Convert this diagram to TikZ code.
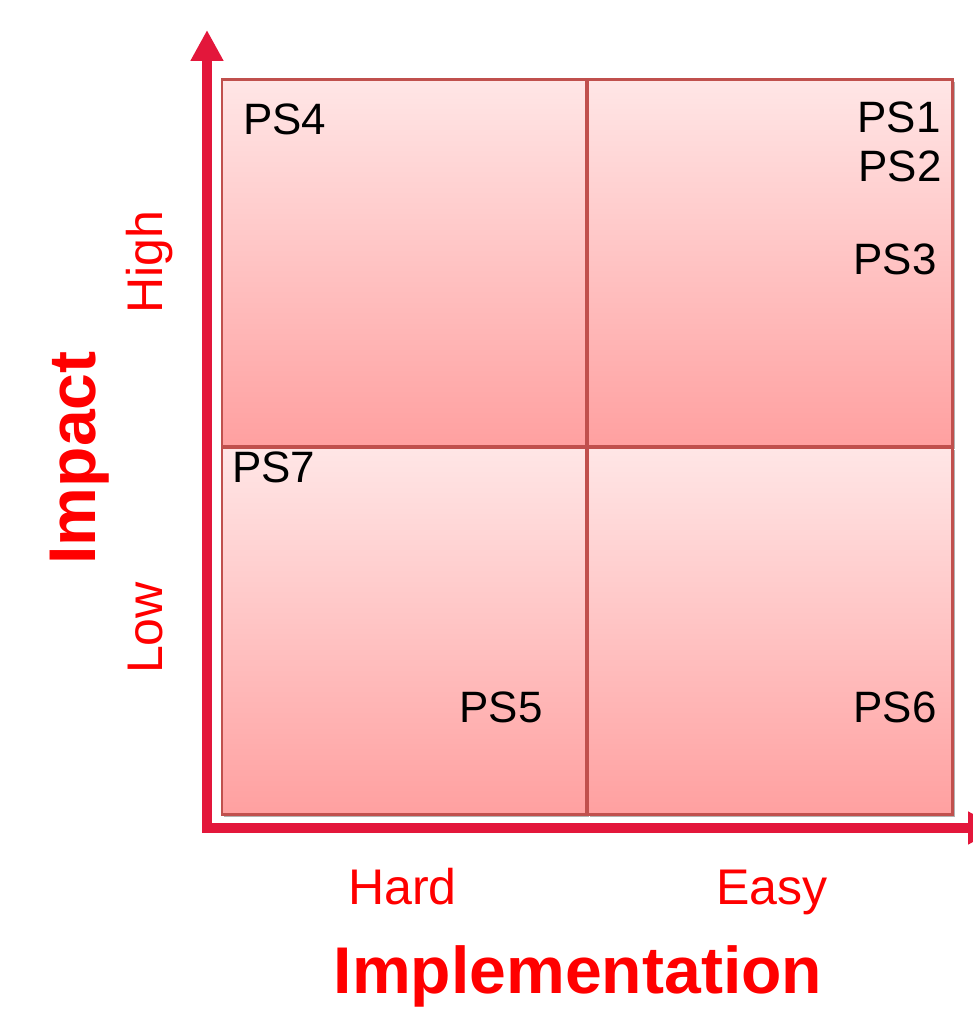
\documentclass[tikz,border=0pt]{standalone}
\usepackage{fontspec}
\setmainfont{Liberation Sans}
\usepackage{tikz}
\usetikzlibrary{arrows.meta, shadows}

\definecolor{axisred}{HTML}{E3173B}
\definecolor{textred}{HTML}{FF0000}
\definecolor{boxline}{HTML}{C0504D}
\definecolor{boxtop}{HTML}{FFE6E6}
\definecolor{boxbottom}{HTML}{FFA0A0}

\begin{document}
\begin{tikzpicture}[
    quad/.style={draw=boxline, line width=1.6pt, top color=boxtop,
      bottom color=boxbottom, minimum width=7.29cm, minimum height=7.33cm,
      inner sep=0pt, drop shadow={shadow xshift=0.05cm, shadow yshift=-0.05cm,
      fill=black, opacity=0.3}},
    pslabel/.style={font=\fontsize{25}{30}\selectfont, inner sep=0pt},
    levellabel/.style={font=\fontsize{28.5}{34}\selectfont, text=textred, inner sep=0pt},
    axistitle/.style={font=\fontsize{37.6}{45}\selectfont\bfseries, text=textred, inner sep=0pt}]

      \useasboundingbox (0,0) rectangle (19.46,20.2);

      % Axes
      \coordinate (origin) at (4.14,3.64);
      \coordinate (ytop) at (4.14,19.6);
      \coordinate (xend) at (19.98,3.64);
      \draw[line width=0.2cm, axisred, line join=miter,
        {Triangle[length=0.62cm, width=0.62cm]}-{Triangle[length=0.62cm, width=0.62cm]}]
        (ytop) -- (origin) -- (xend);

      % Quadrants
      \node[quad, anchor=north west] (tl) at (4.41,18.63) {};
      \node[quad, anchor=north west] (tr) at (11.73,18.63) {};
      \node[quad, anchor=north west] (bl) at (4.41,11.27) {};
      \node[quad, anchor=north west] (br) at (11.73,11.27) {};

      % Problem statements
      \node[pslabel, anchor=base west] (ps4) at (4.86,17.50) {PS4};
      \node[pslabel, anchor=base east] (ps1) at (18.82,17.54) {PS1};
      \node[pslabel, anchor=base east] (ps2) at (18.84,16.56) {PS2};
      \node[pslabel, anchor=base east] (ps3) at (18.74,14.70) {PS3};
      \node[pslabel, anchor=base west] (ps7) at (4.64,10.54) {PS7};
      \node[pslabel, anchor=base east] (ps5) at (10.86,5.74) {PS5};
      \node[pslabel, anchor=base east] (ps6) at (18.74,5.74) {PS6};

      % Vertical axis labels
      \node[levellabel, rotate=90, anchor=base] (high) at (3.24,14.96) {High};
      \node[levellabel, rotate=90, anchor=base] (low) at (3.24,7.64) {Low};
      \node[axistitle, rotate=90, anchor=base] (impact) at (1.90,11.04) {Impact};

      % Horizontal axis labels
      \node[levellabel, anchor=base] (hard) at (8.05,2.10) {Hard};
      \node[levellabel, anchor=base] (easy) at (15.44,2.10) {Easy};
      \node[axistitle, anchor=base] (impl) at (11.56,0.32) {Implementation};

    \end{tikzpicture}
\end{document}
